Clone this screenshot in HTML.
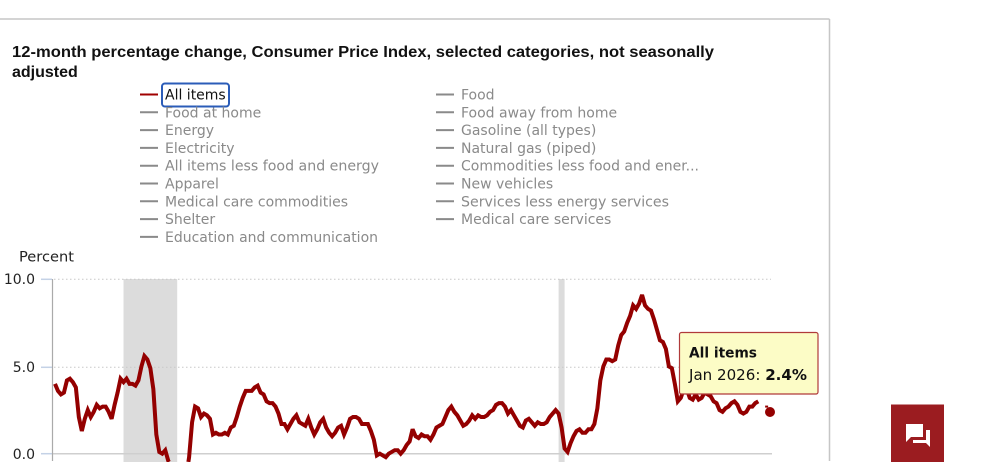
<!DOCTYPE html>
<html><head><meta charset="utf-8"><style>
html,body{margin:0;padding:0;background:#fff;width:1000px;height:462px;overflow:hidden;}
svg{display:block;}
</style></head><body>
<svg width="1000" height="462" viewBox="0 0 1000 462" xmlns="http://www.w3.org/2000/svg">
<rect width="1000" height="462" fill="#fff"/>
<!-- panel border -->
<line x1="0" y1="19" x2="829.5" y2="19" stroke="#c6c6c6" stroke-width="1.5"/>
<line x1="829.5" y1="19" x2="829.5" y2="461" stroke="#c6c6c6" stroke-width="1.5"/>
<!-- title -->
<text x="12" y="57" font-family="Liberation Sans, Arial, sans-serif" font-weight="bold" font-size="16" fill="#111" textLength="702" lengthAdjust="spacingAndGlyphs">12-month percentage change, Consumer Price Index, selected categories, not seasonally</text>
<text x="12" y="77" font-family="Liberation Sans, Arial, sans-serif" font-weight="bold" font-size="16" fill="#111">adjusted</text>
<!-- legend -->
<g font-family="DejaVu Sans, Verdana, sans-serif" font-size="14" fill="#8a8a8a">
<rect x="162" y="83.5" width="67" height="23" rx="3" fill="none" stroke="#2b5cb8" stroke-width="2"/>
<line x1="140" y1="94.5" x2="158" y2="94.5" stroke="#a00000" stroke-width="2"/>
<text x="165" y="99.5" fill="#111">All items</text>
<g stroke="#8a8a8a" stroke-width="2">
<line x1="140" y1="112.3" x2="158" y2="112.3"/>
<line x1="140" y1="130.1" x2="158" y2="130.1"/>
<line x1="140" y1="147.9" x2="158" y2="147.9"/>
<line x1="140" y1="165.7" x2="158" y2="165.7"/>
<line x1="140" y1="183.5" x2="158" y2="183.5"/>
<line x1="140" y1="201.3" x2="158" y2="201.3"/>
<line x1="140" y1="219.1" x2="158" y2="219.1"/>
<line x1="140" y1="236.9" x2="158" y2="236.9"/>
<line x1="436" y1="94.5" x2="454" y2="94.5"/>
<line x1="436" y1="112.3" x2="454" y2="112.3"/>
<line x1="436" y1="130.1" x2="454" y2="130.1"/>
<line x1="436" y1="147.9" x2="454" y2="147.9"/>
<line x1="436" y1="165.7" x2="454" y2="165.7"/>
<line x1="436" y1="183.5" x2="454" y2="183.5"/>
<line x1="436" y1="201.3" x2="454" y2="201.3"/>
<line x1="436" y1="219.1" x2="454" y2="219.1"/>
</g>
<text x="165" y="117.3">Food at home</text>
<text x="165" y="135.1">Energy</text>
<text x="165" y="152.9">Electricity</text>
<text x="165" y="170.7" textLength="214" lengthAdjust="spacingAndGlyphs">All items less food and energy</text>
<text x="165" y="188.5">Apparel</text>
<text x="165" y="206.3">Medical care commodities</text>
<text x="165" y="224.1">Shelter</text>
<text x="165" y="241.9" textLength="213" lengthAdjust="spacingAndGlyphs">Education and communication</text>
<text x="461" y="99.5">Food</text>
<text x="461" y="117.3">Food away from home</text>
<text x="461" y="135.1">Gasoline (all types)</text>
<text x="461" y="152.9">Natural gas (piped)</text>
<text x="461" y="170.7" textLength="238" lengthAdjust="spacingAndGlyphs">Commodities less food and ener...</text>
<text x="461" y="188.5">New vehicles</text>
<text x="461" y="206.3" textLength="208" lengthAdjust="spacingAndGlyphs">Services less energy services</text>
<text x="461" y="224.1">Medical care services</text>
</g>
<!-- axis labels -->
<g font-family="DejaVu Sans, Verdana, sans-serif" fill="#222">
<text x="19" y="261.5" font-size="14.6">Percent</text>
<text x="35" y="284" font-size="14" text-anchor="end">10.0</text>
<text x="35" y="372" font-size="14" text-anchor="end">5.0</text>
<text x="35" y="459" font-size="14" text-anchor="end">0.0</text>
</g>
<!-- recession shading -->
<rect x="123.5" y="279" width="53.7" height="183" fill="#dcdcdc"/>
<rect x="558.6" y="279" width="6" height="183" fill="#dcdcdc"/>
<!-- grid -->
<line x1="54" y1="279.3" x2="771" y2="279.3" stroke="#c8c8c8" stroke-width="1" stroke-dasharray="1.5,2.5"/>
<line x1="54" y1="367.3" x2="771" y2="367.3" stroke="#c8c8c8" stroke-width="1" stroke-dasharray="1.5,2.5"/>
<line x1="52" y1="453.7" x2="772" y2="453.7" stroke="#cfcfcf" stroke-width="1.5"/>
<g stroke="#c4d2e6" stroke-width="1.5">
<line x1="41" y1="279.3" x2="52" y2="279.3"/>
<line x1="41" y1="367.3" x2="52" y2="367.3"/>
<line x1="41" y1="453.7" x2="52" y2="453.7"/>
</g>
<line x1="52.5" y1="279" x2="52.5" y2="461" stroke="#aaaaaa" stroke-width="1.2"/>
<!-- series -->
<g transform="translate(55,453.7) scale(2.98,-17.45)">
<polyline fill="none" stroke="#940000" stroke-width="4" vector-effect="non-scaling-stroke" stroke-linejoin="miter" stroke-miterlimit="3" points="
0,4.0 1,3.6 2,3.4 3,3.5 4,4.2 5,4.3 6,4.1 7,3.8 8,2.1 9,1.3 10,2.0 11,2.5
12,2.1 13,2.4 14,2.8 15,2.6 16,2.7 17,2.7 18,2.4 19,2.0 20,2.8 21,3.5 22,4.3 23,4.1
24,4.3 25,4.0 26,4.0 27,3.9 28,4.2 29,5.0 30,5.6 31,5.4 32,4.9 33,3.7 34,1.1 35,0.1
36,0.0 37,0.2 38,-0.4 38.233,-0.47"/>
<polyline fill="none" stroke="#940000" stroke-width="4" vector-effect="non-scaling-stroke" stroke-linejoin="miter" stroke-miterlimit="3" points="
44.755,-0.47 45,-0.2 46,1.8 47,2.7
48,2.6 49,2.1 50,2.3 51,2.2 52,2.0 53,1.1 54,1.2 55,1.1 56,1.1 57,1.2 58,1.1 59,1.5
60,1.6 61,2.1 62,2.7 63,3.2 64,3.6 65,3.6 66,3.6 67,3.8 68,3.9 69,3.5 70,3.4 71,3.0
72,2.9 73,2.9 74,2.7 75,2.3 76,1.7 77,1.7 78,1.4 79,1.7 80,2.0 81,2.2 82,1.8 83,1.7
84,1.6 85,2.0 86,1.5 87,1.1 88,1.4 89,1.8 90,2.0 91,1.5 92,1.2 93,1.0 94,1.2 95,1.5
96,1.6 97,1.1 98,1.5 99,2.0 100,2.1 101,2.1 102,2.0 103,1.7 104,1.7 105,1.7 106,1.3 107,0.8
108,-0.1 109,0.0 110,-0.1 111,-0.2 112,0.0 113,0.1 114,0.2 115,0.2 116,0.0 117,0.2 118,0.5 119,0.7
120,1.4 121,1.0 122,0.9 123,1.1 124,1.0 125,1.0 126,0.8 127,1.1 128,1.5 129,1.6 130,1.7 131,2.1
132,2.5 133,2.7 134,2.4 135,2.2 136,1.9 137,1.6 138,1.7 139,1.9 140,2.2 141,2.0 142,2.2 143,2.1
144,2.1 145,2.2 146,2.4 147,2.5 148,2.8 149,2.9 150,2.9 151,2.7 152,2.3 153,2.5 154,2.2 155,1.9
156,1.6 157,1.5 158,1.9 159,2.0 160,1.8 161,1.6 162,1.8 163,1.7 164,1.7 165,1.8 166,2.1 167,2.3
168,2.5 169,2.3 170,1.5 171,0.3 172,0.1 173,0.6 174,1.0 175,1.3 176,1.4 177,1.2 178,1.2 179,1.4
180,1.4 181,1.7 182,2.6 183,4.2 184,5.0 185,5.4 186,5.4 187,5.3 188,5.4 189,6.2 190,6.8 191,7.0
192,7.5 193,7.9 194,8.5 195,8.3 196,8.6 197,9.1 198,8.5 199,8.3 200,8.2 201,7.7 202,7.1 203,6.5
204,6.4 205,6.0 206,5.0 207,4.9 208,4.0 209,3.0 210,3.2 211,3.7 212,3.7 213,3.2 214,3.1 215,3.4
216,3.1 217,3.2 218,3.5 219,3.4 220,3.3 221,3.0 222,2.9 223,2.5 224,2.4 225,2.6 226,2.7 227,2.9
228,3.0 229,2.8 230,2.4 231,2.3 232,2.4 233,2.7 234,2.7 235,2.9 236,3.0"/>
<polyline fill="none" stroke="#940000" stroke-width="2" vector-effect="non-scaling-stroke" points="238.3,2.7 239.3,2.7"/>
</g>
<circle cx="770" cy="412" r="5" fill="#940000"/>
<!-- tooltip -->
<rect x="679.5" y="332.5" width="138.5" height="61.5" rx="2" fill="#fcfcc6" stroke="#b03a3a" stroke-width="1.2"/>
<g font-family="DejaVu Sans, Verdana, sans-serif" fill="#111">
<text x="689" y="357.5" font-size="14" font-weight="bold" textLength="68" lengthAdjust="spacingAndGlyphs">All items</text>
<text x="689" y="380" font-size="15" textLength="118" lengthAdjust="spacingAndGlyphs">Jan 2026: <tspan font-weight="bold">2.4%</tspan></text>
</g>
<!-- chat button -->
<rect x="891" y="404.5" width="53" height="57.5" fill="#9b1c20"/>
<path d="M906,424 H923 V437 H911 L906,442 Z" fill="#fff"/>
<path d="M926,430 H930 V447 L926,443 H913 V440 H926 Z" fill="#fff"/>
</svg>
</body></html>
